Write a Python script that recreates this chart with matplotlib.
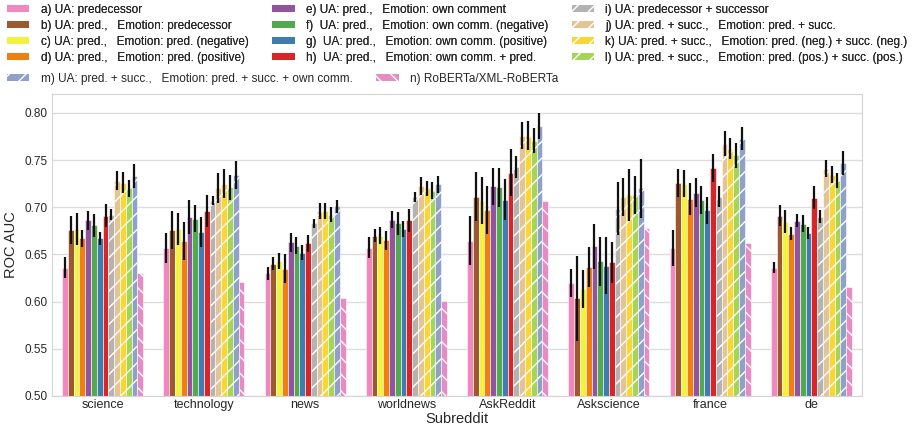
import colorsys
import matplotlib
matplotlib.use('Agg')
import matplotlib.pyplot as plt
import matplotlib.colors as mcolors
from matplotlib.patches import Patch
import seaborn as sns

subreddits = ['science', 'technology', 'news', 'worldnews', 'AskReddit', 'Askscience', 'france', 'de']

labels = [
    'a) UA: predecessor',
    'b) UA: pred.,   Emotion: predecessor',
    'c) UA: pred.,   Emotion: pred. (negative)',
    'd) UA: pred.,   Emotion: pred. (positive)',
    'e) UA: pred.,   Emotion: own comment',
    'f)  UA: pred.,   Emotion: own comm. (negative)',
    'g)  UA: pred.,   Emotion: own comm. (positive)',
    'h)  UA: pred.,   Emotion: own comm. + pred.',
    'i) UA: predecessor + successor',
    'j) UA: pred. + succ.,   Emotion: pred. + succ.',
    'k) UA: pred. + succ.,   Emotion: pred. (neg.) + succ. (neg.)',
    'l) UA: pred. + succ.,   Emotion: pred. (pos.) + succ. (pos.)',
    'm) UA: pred. + succ.,   Emotion: pred. + succ. + own comm.',
    'n) RoBERTa/XML-RoBERTa',
]

# mean ROC AUC per method, order follows subreddits
auc_a = [0.636, 0.657, 0.630, 0.657, 0.6645, 0.620, 0.657, 0.636]
auc_b = [0.676, 0.676, 0.640, 0.670, 0.711, 0.6035, 0.7257, 0.691]
auc_c = [0.677, 0.677, 0.643, 0.670, 0.707, 0.6135, 0.725, 0.6847]
auc_d = [0.667, 0.664, 0.635, 0.665, 0.697, 0.6365, 0.709, 0.672]
auc_e = [0.686, 0.690, 0.663, 0.687, 0.722, 0.6585, 0.7155, 0.6857]
auc_f = [0.681, 0.688, 0.659, 0.683, 0.721, 0.643, 0.7075, 0.6825]
auc_g = [0.667, 0.674, 0.652, 0.677, 0.708, 0.638, 0.6967, 0.6726]
auc_h = [0.691, 0.696, 0.662, 0.686, 0.7365, 0.6415, 0.7416, 0.710]
auc_i = [0.692, 0.707, 0.683, 0.711, 0.7425, 0.6985, 0.711, 0.690]
auc_j = [0.728, 0.720, 0.696, 0.7225, 0.776, 0.711, 0.7674, 0.741]
auc_k = [0.726, 0.725, 0.696, 0.720, 0.776, 0.713, 0.762, 0.7345]
auc_l = [0.720, 0.721, 0.692, 0.7175, 0.7705, 0.713, 0.755, 0.728]
auc_m = [0.733, 0.734, 0.701, 0.7245, 0.786, 0.720, 0.7727, 0.747]
auc_n = [0.6305, 0.621, 0.604, 0.601, 0.707, 0.6785, 0.662, 0.616]

# half width of the error bars
err_a = [0.011, 0.016, 0.007, 0.011, 0.026, 0.015, 0.019, 0.006]
err_b = [0.015, 0.020, 0.007, 0.007, 0.026, 0.045, 0.015, 0.011]
err_c = [0.017, 0.017, 0.008, 0.009, 0.025, 0.020, 0.014, 0.012]
err_d = [0.009, 0.020, 0.015, 0.010, 0.025, 0.021, 0.017, 0.007]
err_e = [0.010, 0.018, 0.010, 0.009, 0.020, 0.024, 0.015, 0.007]
err_f = [0.012, 0.014, 0.009, 0.012, 0.021, 0.026, 0.015, 0.009]
err_g = [0.007, 0.016, 0.008, 0.008, 0.022, 0.030, 0.014, 0.006]
err_h = [0.012, 0.017, 0.009, 0.012, 0.025, 0.022, 0.015, 0.012]
err_i = [0.006, 0.005, 0.005, 0.005, 0.012, 0.028, 0.011, 0.007]
err_j = [0.010, 0.016, 0.008, 0.010, 0.014, 0.020, 0.013, 0.009]
err_k = [0.011, 0.015, 0.008, 0.008, 0.015, 0.028, 0.011, 0.009]
err_l = [0.009, 0.013, 0.008, 0.009, 0.013, 0.020, 0.013, 0.008]
err_m = [0.013, 0.015, 0.007, 0.009, 0.014, 0.031, 0.012, 0.0125]

aucs = [auc_a, auc_b, auc_c, auc_d, auc_e, auc_f, auc_g, auc_h,
        auc_i, auc_j, auc_k, auc_l, auc_m, auc_n]
errs = [err_a, err_b, err_c, err_d, err_e, err_f, err_g, err_h,
        err_i, err_j, err_k, err_l, err_m, None]

# Set1 for the plain bars, Set2 for the hatched ones
set1 = ['#f781bf', '#a65628', '#ffff33', '#ff7f00', '#984ea3', '#4daf4a',
        '#377eb8', '#e41a1c']
set2 = ['#b3b3b3', '#e5c494', '#ffd92f', '#a6d854', '#8da0cb', '#e78ac3']
hatches = [None] * 8 + ['//'] * 5 + ['\\\\']


def desaturate(c, prop):
    r, g, b = mcolors.to_rgb(c)
    h, l, s = colorsys.rgb_to_hls(r, g, b)
    return colorsys.hls_to_rgb(h, l, s * prop)


colors = [desaturate(c, 0.88) for c in set1] + [desaturate(c, 0.95) for c in set2]

sns.set_style('whitegrid')
plt.rcParams['font.family'] = ['Liberation Sans', 'DejaVu Sans']
plt.rcParams['hatch.linewidth'] = 1.0

fig = plt.figure(figsize=(9.16, 4.33), dpi=100)
ax = fig.add_axes([52 / 916, 1 - 396 / 433, 810 / 916, 302 / 433])

n_hue = len(aucs)
width = 0.8 / n_hue
for j in range(n_hue):
    xs = [i - 0.4 + (j + 0.5) * width for i in range(len(subreddits))]
    ax.bar(xs, aucs[j], width=width, color=colors[j], edgecolor='white',
           linewidth=0.4, hatch=hatches[j], zorder=2)
    if errs[j] is not None:
        lo = [v - e for v, e in zip(aucs[j], errs[j])]
        hi = [v + e for v, e in zip(aucs[j], errs[j])]
        ax.vlines(xs, lo, hi, color='#111111', linewidth=1.6, zorder=3)

ax.set_xlim(-0.5, len(subreddits) - 0.5)
ax.set_ylim(0.5, 0.82)
ax.set_yticks([0.50, 0.55, 0.60, 0.65, 0.70, 0.75, 0.80])
ax.set_yticklabels(['0.50', '0.55', '0.60', '0.65', '0.70', '0.75', '0.80'])
ax.set_xticks(range(len(subreddits)))
ax.set_xticklabels(subreddits)
ax.grid(axis='x', visible=False)
ax.grid(axis='y', color='#dddddd', linewidth=1.0)
ax.tick_params(axis='y', labelsize=8.5, pad=3, length=0)
ax.tick_params(axis='x', labelsize=9, pad=2, length=0)
ax.set_xlabel('Subreddit', fontsize=10.5, labelpad=1)
ax.set_ylabel('ROC AUC', fontsize=10.5, labelpad=5)
for s in ax.spines.values():
    s.set_color('#d5d5d5')

handles = [Patch(facecolor=colors[j], edgecolor='white', linewidth=0,
                 hatch=hatches[j], label=labels[j]) for j in range(n_hue)]

leg_kw = dict(frameon=False, fontsize=8.5, handlelength=1.9, handleheight=0.5,
              handletextpad=0.95, columnspacing=2.0, labelspacing=0.34,
              borderpad=0, borderaxespad=0, loc='upper left')
leg1 = fig.legend(handles[:12], labels[:12], ncol=3,
                  bbox_to_anchor=(7 / 916, 1 - 4 / 433), **leg_kw)
leg2 = fig.legend(handles[12:], labels[12:], ncol=2,
                  bbox_to_anchor=(7 / 916, 1 - 73 / 433), **leg_kw)
fig.add_artist(leg1)

fig.savefig('out.png', dpi=100)
print('out.png')
